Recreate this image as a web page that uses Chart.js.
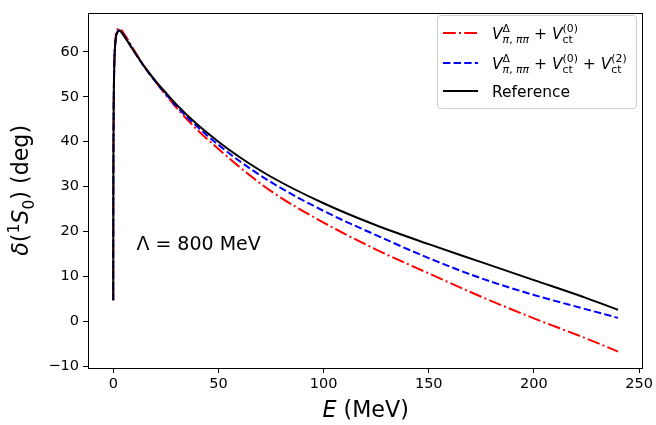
<!DOCTYPE html>
<html>
<head>
<meta charset="utf-8">
<script src="https://cdn.jsdelivr.net/npm/chart.js@4.4.0/dist/chart.umd.min.js"></script>
<style>
  body { margin: 0; background: #fff; }
  canvas { display: block; }
</style>
</head>
<body>
<canvas id="phaseChart" width="656" height="425"></canvas>
<script>
// 1S0 phase shifts vs lab energy
const energy   = [0.001, 0.01, 0.05, 0.1, 0.2, 0.5, 1, 2, 3, 5, 10, 15, 20, 25, 30, 40, 50, 60, 75, 100, 125, 150, 175, 200, 225, 240];
const deltaLO  = [4.7, 14.6, 29.9, 38.6, 47.5, 57.4, 62.5, 64.9, 65.2, 64.1, 60.3, 56.6, 53.4, 50.4, 47.6, 42.6, 38.4, 34.4, 29.0, 22.0, 16.0, 10.7, 5.5, 0.7, -3.8, -6.7];
const deltaNLO = [4.7, 14.6, 29.8, 38.4, 47.2, 57.0, 62.0, 64.4, 64.8, 63.7, 60.0, 56.5, 53.4, 50.6, 47.9, 43.3, 39.3, 35.7, 31.0, 24.6, 19.2, 14.1, 9.6, 5.9, 2.7, 0.8];
const deltaRef = [4.7, 14.6, 29.8, 38.4, 47.2, 57.0, 62.0, 64.4, 64.7, 63.6, 60.0, 56.6, 53.6, 50.9, 48.3, 43.8, 40.0, 36.6, 32.2, 26.3, 21.4, 17.2, 13.2, 9.2, 5.2, 2.6];
const xTicks = [0, 50, 100, 150, 200, 250];
const yTicks = [-10, 0, 10, 20, 30, 40, 50, 60];

const FONT = "'DejaVu Sans', sans-serif";

const toPoints = ys => energy.map((e, i) => ({ x: e, y: ys[i] }));

// draw a run of text pieces, with stacked super/subscripts (mathtext-like)
function drawMath(ctx, x, y, parts, size, dry) {
    let cx = x;
    const piece = (t, px, py, s, it) => {
        ctx.font = (it ? 'italic ' : '') + s + 'px ' + FONT;
        if (!dry) ctx.fillText(t, px, py);
        return ctx.measureText(t).width;
    };
    for (const p of parts) {
        if (p.sup || p.sub) {
            const s = size * 0.7;
            let w1 = 0, w2 = 0;
            if (p.sup) { for (const [t, it] of p.sup) w1 += piece(t, cx + w1, y - size * 0.42, s, it); }
            if (p.sub) { for (const [t, it] of p.sub) w2 += piece(t, cx + w2, y + size * 0.26, s, it); }
            cx += Math.max(w1, w2);
        } else {
            cx += piece(p[0], cx, y, size, p[1]);
        }
    }
    return cx - x;
}

const legendRows = [
    { color: '#ff0000', dash: [12.8, 3.2, 2, 3.2], parts: [
        ['V', true], { sup: [['Δ', false]], sub: [['π', true], [', ', false], ['ππ', true]] },
        [' + ', false], ['V', true], { sup: [['(0)', false]], sub: [['ct', false]] }] },
    { color: '#0000ff', dash: [7.4, 3.2], parts: [
        ['V', true], { sup: [['Δ', false]], sub: [['π', true], [', ', false], ['ππ', true]] },
        [' + ', false], ['V', true], { sup: [['(0)', false]], sub: [['ct', false]] },
        [' + ', false], ['V', true], { sup: [['(2)', false]], sub: [['ct', false]] }] },
    { color: '#000000', dash: [], parts: [['Reference', false]] }
];

const decorations = {
    id: 'decorations',
    afterDatasetsDraw(chart) {
        const { ctx, chartArea: a, scales } = chart;
        ctx.save();
        // frame
        ctx.strokeStyle = '#000';
        ctx.lineWidth = 1;
        ctx.strokeRect(Math.round(a.left) + 0.5, Math.round(a.top) + 0.5,
            Math.round(a.right - a.left) - 1, Math.round(a.bottom - a.top));

        ctx.fillStyle = '#000';
        ctx.textBaseline = 'alphabetic';
        ctx.textAlign = 'left';

        // annotation
        const ax = scales.x.getPixelForValue(11);
        const ay = scales.y.getPixelForValue(15.9);
        drawMath(ctx, ax, ay, [['Λ', false], [' = ', false], ['800', false], [' MeV', false]], 19);

        // x title
        const xParts = [['E', true], [' (MeV)', false]];
        const xw = drawMath(ctx, 0, 0, xParts, 22.2, true);
        drawMath(ctx, (a.left + a.right) / 2 - xw / 2, 417, xParts, 22.2);

        // y title
        const yParts = [['δ', true], ['(', false], { sup: [['1', false]] }, ['S', true],
            { sub: [['0', false]] }, [')', false], [' (deg)', false]];
        const yw = drawMath(ctx, 0, 0, yParts, 22.2, true);
        ctx.save();
        ctx.translate(28, (a.top + a.bottom) / 2);
        ctx.rotate(-Math.PI / 2);
        drawMath(ctx, -yw / 2, 0, yParts, 22.2);
        ctx.restore();

        // legend
        const bx = 437, by = 15, bw = 199, bh = 93;
        ctx.beginPath();
        ctx.roundRect(bx + 0.5, by + 0.5, bw, bh, 3);
        ctx.fillStyle = 'rgba(255,255,255,0.8)';
        ctx.fill();
        ctx.strokeStyle = '#cccccc';
        ctx.stroke();
        const rowY = [33, 63, 91];
        legendRows.forEach((r, i) => {
            ctx.beginPath();
            ctx.setLineDash(r.dash);
            ctx.strokeStyle = r.color;
            ctx.lineWidth = 2;
            ctx.moveTo(443, rowY[i]);
            ctx.lineTo(478, rowY[i]);
            ctx.stroke();
            ctx.setLineDash([]);
            ctx.fillStyle = '#000';
            drawMath(ctx, 492, rowY[i] + 5.5, r.parts, 15.5);
        });
        ctx.restore();
    }
};

new Chart(document.getElementById('phaseChart').getContext('2d'), {
    type: 'line',
    data: {
        datasets: [
            {
                label: 'LO',
                data: toPoints(deltaLO),
                borderColor: '#ff0000',
                borderWidth: 2,
                borderDash: [12.8, 3.2, 2, 3.2],
                order: 2
            },
            {
                label: 'NLO',
                data: toPoints(deltaNLO),
                borderColor: '#0000ff',
                borderWidth: 2,
                borderDash: [7.4, 3.2],
                order: 1
            },
            {
                label: 'Reference',
                data: toPoints(deltaRef),
                borderColor: '#000000',
                borderWidth: 2,
                order: 0
            }
        ]
    },
    options: {
        responsive: false,
        animation: false,
        layout: { padding: { top: 7, right: 12, left: 0, bottom: 0 } },
        elements: {
            point: { radius: 0 },
            line: { cubicInterpolationMode: 'monotone', fill: false }
        },
        plugins: { legend: { display: false }, tooltip: { enabled: false } },
        scales: {
            x: {
                type: 'linear',
                min: -12,
                max: 252,
                afterBuildTicks: s => { s.ticks = xTicks.map(v => ({ value: v })); },
                afterFit: s => { s.height = 57; },
                grid: { drawOnChartArea: false, drawTicks: true, tickLength: 5, color: '#000', lineWidth: 1 },
                border: { display: false },
                ticks: { color: '#000', padding: 3, maxRotation: 0, font: { family: FONT, size: 14.5 } }
            },
            y: {
                type: 'linear',
                min: -10.35,
                max: 68.7,
                afterBuildTicks: s => { s.ticks = yTicks.map(v => ({ value: v })); },
                afterFit: s => { s.width = 88; },
                grid: { drawOnChartArea: false, drawTicks: true, tickLength: 5, color: '#000', lineWidth: 1 },
                border: { display: false },
                ticks: {
                    color: '#000', padding: 4, font: { family: FONT, size: 14.5 },
                    callback: v => v < 0 ? '\u2212' + Math.abs(v) : String(v)
                }
            }
        }
    },
    plugins: [decorations]
});
</script>
</body>
</html>
